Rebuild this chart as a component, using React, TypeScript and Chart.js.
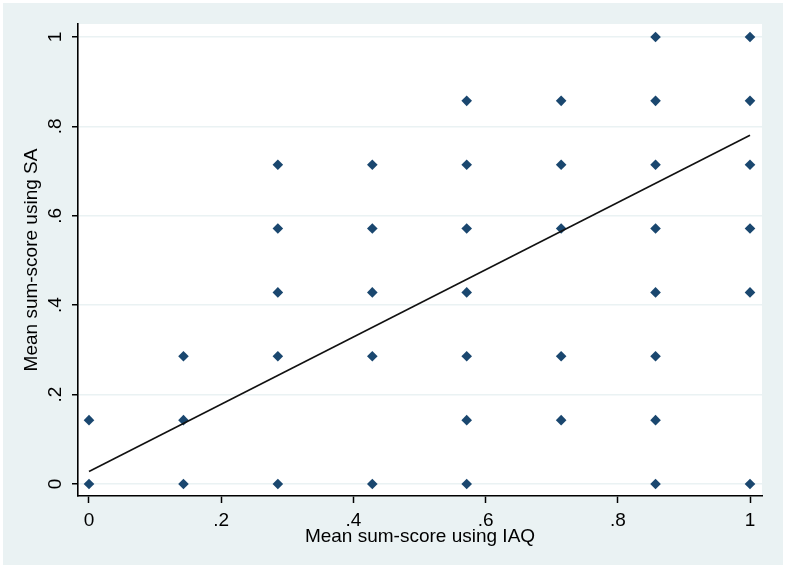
import React, { useEffect, useRef } from "react";
import { Chart, registerables } from "chart.js";

Chart.register(...registerables);

// Observed (IAQ, SA) mean sum-score pairs
const iaqScores = [
  0, 0,
  0.1429, 0.1429, 0.1429,
  0.2857, 0.2857, 0.2857, 0.2857, 0.2857,
  0.4286, 0.4286, 0.4286, 0.4286, 0.4286,
  0.5714, 0.5714, 0.5714, 0.5714, 0.5714, 0.5714, 0.5714,
  0.7143, 0.7143, 0.7143, 0.7143, 0.7143,
  0.8571, 0.8571, 0.8571, 0.8571, 0.8571, 0.8571, 0.8571, 0.8571,
  1, 1, 1, 1, 1, 1,
];
const saScores = [
  0, 0.1429,
  0, 0.1429, 0.2857,
  0, 0.2857, 0.4286, 0.5714, 0.7143,
  0, 0.2857, 0.4286, 0.5714, 0.7143,
  0, 0.1429, 0.2857, 0.4286, 0.5714, 0.7143, 0.8571,
  0.1429, 0.2857, 0.5714, 0.7143, 0.8571,
  0, 0.1429, 0.2857, 0.4286, 0.5714, 0.7143, 0.8571, 1,
  0, 0.4286, 0.5714, 0.7143, 0.8571, 1,
];

// Fitted regression line endpoints
const fitX = [0, 1];
const fitY = [0.028, 0.78];

// Axis ticks
const tickValues = [0, 0.2, 0.4, 0.6, 0.8, 1];
const tickLabels = ["0", ".2", ".4", ".6", ".8", "1"];

const xTitle = "Mean sum-score using IAQ";
const yTitle = "Mean sum-score using SA";

const FONT = "'Liberation Sans', Arial, sans-serif";
const BG = "#eaf2f3";
const MARK = "#1a476f";

export default function App() {
  const ref = useRef<HTMLCanvasElement | null>(null);

  useEffect(() => {
    document.body.style.margin = "0";
    const canvas = ref.current;
    if (!canvas) return;

    const bgPlugin = {
      id: "stataBg",
      beforeDraw(chart: any) {
        const { ctx, chartArea } = chart;
        ctx.save();
        ctx.fillStyle = "#ffffff";
        ctx.fillRect(0, 0, chart.width, chart.height);
        ctx.fillStyle = BG;
        ctx.fillRect(3, 3, 780, 562);
        ctx.fillStyle = "#ffffff";
        ctx.fillRect(
          chartArea.left,
          chartArea.top,
          chartArea.right - chartArea.left,
          chartArea.bottom - chartArea.top
        );
        ctx.restore();
      },
      afterDraw(chart: any) {
        const { ctx } = chart;
        const ys = chart.scales.y;
        ctx.save();
        ctx.fillStyle = "#000";
        ctx.font = `19px ${FONT}`;
        ctx.textAlign = "center";
        ctx.textBaseline = "alphabetic";
        tickValues.forEach((v, i) => {
          const py = ys.getPixelForValue(v);
          ctx.save();
          ctx.translate(61, py);
          ctx.rotate(-Math.PI / 2);
          ctx.fillText(tickLabels[i], 0, 0);
          ctx.restore();
        });
        ctx.restore();
      },
    };

    const chart = new Chart(canvas, {
      type: "scatter",
      data: {
        datasets: [
          {
            type: "line",
            label: "Fitted values",
            data: fitX.map((x, i) => ({ x, y: fitY[i] })),
            borderColor: "#111",
            borderWidth: 1.6,
            pointRadius: 0,
            fill: false,
            order: 0,
          },
          {
            label: "SA vs IAQ",
            data: iaqScores.map((x, i) => ({ x, y: saScores[i] })),
            pointStyle: "rectRot",
            pointRadius: 5.3,
            backgroundColor: MARK,
            borderColor: MARK,
            borderWidth: 0,
            order: 1,
          },
        ],
      },
      options: {
        responsive: false,
        animation: false,
        devicePixelRatio: 1,
        layout: { padding: { top: 24, right: 27, left: 0, bottom: 0 } },
        plugins: {
          legend: { display: false },
          tooltip: { enabled: false },
        },
        scales: {
          x: {
            type: "linear",
            min: -0.01664,
            max: 1.01815,
            afterBuildTicks: (s: any) => {
              s.ticks = tickValues.map((v) => ({ value: v }));
            },
            afterFit: (s: any) => {
              s.height = 74;
            },
            ticks: {
              autoSkip: false,
              maxRotation: 0,
              padding: 6,
              color: "#000",
              font: { family: FONT, size: 19 },
              callback: (v: any) => tickLabels[tickValues.indexOf(Number(v))] ?? "",
            },
            grid: {
              drawOnChartArea: false,
              drawTicks: true,
              tickLength: 7,
              tickColor: "#000",
              tickWidth: 1.5,
            },
            border: { display: true, color: "#000", width: 1.6 },
            title: {
              display: true,
              text: xTitle,
              color: "#000",
              font: { family: FONT, size: 19 },
              padding: { top: 0, bottom: 22 },
            },
          },
          y: {
            type: "linear",
            min: -0.0268,
            max: 1.029,
            afterBuildTicks: (s: any) => {
              s.ticks = tickValues.map((v) => ({ value: v }));
            },
            afterFit: (s: any) => {
              s.width = 78;
            },
            ticks: { display: false },
            grid: {
              drawOnChartArea: true,
              color: BG,
              lineWidth: 1.5,
              drawTicks: true,
              tickLength: 6,
              tickColor: "#000",
              tickWidth: 1.5,
            },
            border: { display: true, color: "#000", width: 1.6 },
            title: {
              display: true,
              text: yTitle,
              color: "#000",
              font: { family: FONT, size: 19 },
              padding: { top: 20, bottom: 0 },
            },
          },
        },
      },
      plugins: [bgPlugin],
    });

    return () => chart.destroy();
  }, []);

  return (
    <div style={{ position: "fixed", left: 0, top: 0, width: 789, height: 570 }}>
      <canvas ref={ref} width={789} height={570} style={{ display: "block" }} />
    </div>
  );
}
